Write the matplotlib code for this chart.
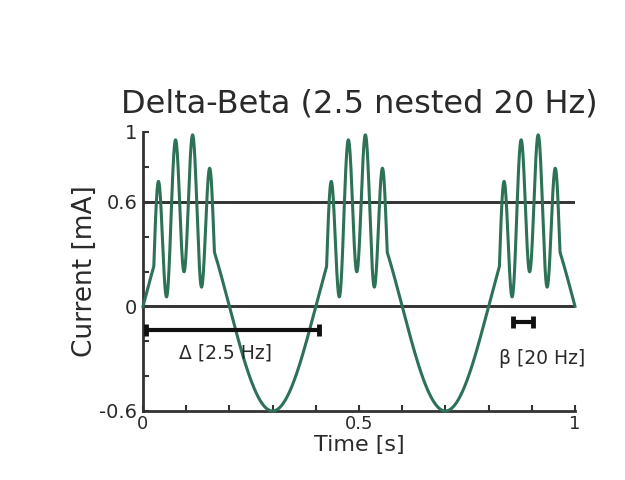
import numpy as np
import matplotlib
matplotlib.use("Agg")
import matplotlib.pyplot as plt
from matplotlib.ticker import MultipleLocator, FixedLocator

# ---- data (signal parameters) ----
delta_freq = 2.5            # Hz
delta_amp = 0.6             # mA
beta_period = 0.04          # s (peak spacing seen in the bursts)
beta_amp = 0.4              # mA
burst_centers = [0.095, 0.495, 0.895]   # s
burst_half_width = 0.07     # s
ref_levels = [0.6, 0.0]     # horizontal reference lines (mA)
x_ticks = [0, 0.5, 1]
x_ticklabels = ["0", "0.5", "1"]
y_ticks = [-0.6, 0, 0.6, 1]
y_ticklabels = ["-0.6", "0", "0.6", "1"]
delta_bar = (0.007, 0.407)  # span of one delta period (s)
beta_bar = (0.857, 0.902)   # span of one beta period (s)

t = np.linspace(0, 1, 5001)
signal = delta_amp * np.sin(2 * np.pi * delta_freq * t)
for c in burst_centers:
    m = np.abs(t - c) <= burst_half_width
    signal[m] += -beta_amp * np.cos(2 * np.pi * (t[m] - c) / beta_period)

green = "#2d7257"
dark = "#333333"
txt = "#2a2a2a"

fig = plt.figure(figsize=(6.25, 4.8), dpi=100)
ax = fig.add_axes([0.2288, 0.14375, 0.6912, 0.58125])

for lvl in ref_levels:
    ax.plot([0, 1], [lvl, lvl], color=dark, lw=2.1, zorder=2)
ax.plot(t, signal, color=green, lw=2.2, zorder=3, clip_on=False)

# period markers
for (x0, x1), y in [(delta_bar, -0.133), (beta_bar, -0.09)]:
    ax.plot([x0, x1], [y, y], color="#111111", lw=3.0, solid_capstyle="butt", zorder=4)
    ax.plot([x0, x1], [y, y], ls="none", marker="|", ms=9, mew=3.5, color="#111111", zorder=4)
ax.text(0.19, -0.27, "Δ [2.5 Hz]", fontsize=13.5, ha="center", va="center", color=txt)
ax.text(0.925, -0.30, "β [20 Hz]", fontsize=13.5, ha="center", va="center", color=txt)

ax.set_xlim(0, 1)
ax.set_ylim(-0.6, 1.0)
for s in ["top", "right"]:
    ax.spines[s].set_visible(False)
for s in ["left", "bottom"]:
    ax.spines[s].set_linewidth(2.0)
    ax.spines[s].set_color(dark)

ax.xaxis.set_major_locator(FixedLocator(x_ticks))
ax.set_xticklabels(x_ticklabels)
ax.xaxis.set_minor_locator(MultipleLocator(0.1))
ax.yaxis.set_major_locator(FixedLocator(y_ticks))
ax.set_yticklabels(y_ticklabels)
ax.yaxis.set_minor_locator(MultipleLocator(0.2))
ax.tick_params(axis="both", which="both", direction="in", length=4, width=1.5, color=dark)
ax.tick_params(axis="x", which="major", labelsize=13, pad=3, labelcolor=txt)
ax.tick_params(axis="y", which="major", labelsize=14, pad=4, labelcolor=txt)

ax.set_xlabel("Time [s]", fontsize=16, labelpad=1, color=txt)
ax.set_ylabel("Current [mA]", fontsize=19, color=txt)
ax.yaxis.set_label_coords(-0.105, 0.5)
ax.set_title("Delta-Beta (2.5 nested 20 Hz)", fontsize=23, pad=14, color=txt)

fig.savefig("out.png", dpi=100)
